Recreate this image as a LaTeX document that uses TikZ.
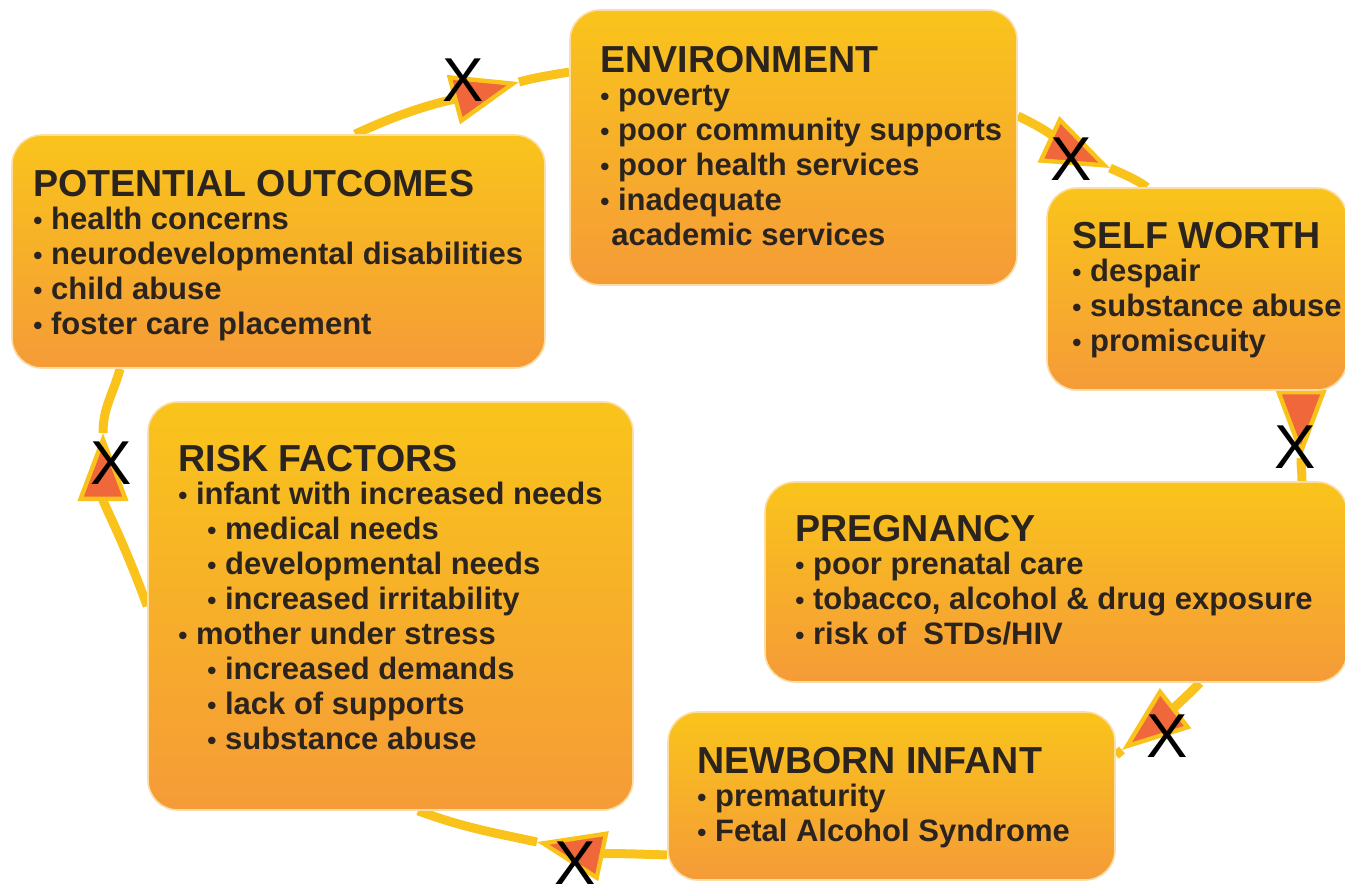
\documentclass[tikz,border=0pt]{standalone}
\usepackage{fontspec}
\setmainfont{Liberation Sans}
\usetikzlibrary{arrows.meta,backgrounds}

\definecolor{boxtop}{HTML}{F9C41B}
\definecolor{boxbottom}{HTML}{F59B38}
\definecolor{boxedge}{HTML}{FCDDA6}
\definecolor{linkyellow}{HTML}{F9C31C}
\definecolor{headred}{HTML}{EF673A}
\definecolor{ink}{HTML}{2B241E}

\newcommand{\bul}{{\fontsize{13}{13}\selectfont\textbullet}\ }
\newcommand{\subbul}{\hspace*{14.5pt}\bul}
\newcommand{\heading}[1]{{\fontsize{18.8}{20}\selectfont #1}}

\tikzset{
    card/.style={rounded corners=15pt, top color=boxtop, bottom color=boxbottom,
        draw=boxedge, line width=0.8pt, inner sep=0pt},
    cardtext/.style={anchor=north west, align=left, inner sep=0pt, text=ink,
        font=\fontsize{15.5}{17.5}\selectfont\bfseries},
    link/.style={draw=linkyellow, line width=4.5pt},
    linkhead/.style={link, -{Triangle[length=34pt,width=25pt,fill=headred,line width=2.2pt]}},
    cross/.style={font=\fontsize{31}{31}\selectfont, text=black, inner sep=0pt}
}

\begin{document}
\begin{tikzpicture}[x=0.5pt,y=-0.5pt]
        \useasboundingbox (0,0) rectangle (1345,885);
        \clip (0,0) rectangle (1345,885);

        %boxes
        \node [card, minimum width=266.5pt, minimum height=116.5pt] (outcomes) at (278.5,251.5) {};
        \node [card, minimum width=223.5pt, minimum height=137.5pt] (environment) at (793.5,147.5) {};
        \node [card, minimum width=150pt, minimum height=101pt] (selfworth) at (1197,289) {};
        \node [card, minimum width=242.5pt, minimum height=204pt] (risk) at (390.5,606) {};
        \node [card, minimum width=291pt, minimum height=100pt] (pregnancy) at (1056,582) {};
        \node [card, minimum width=223.5pt, minimum height=84pt] (newborn) at (891.5,796) {};

        %texts
        \node [cardtext] (outcomestext) at (33,170) {\heading{POTENTIAL OUTCOMES}\\[-1pt]
            \bul health concerns\\ \bul neurodevelopmental disabilities\\
            \bul child abuse\\ \bul foster care placement};
        \node [cardtext] (environmenttext) at (600,46) {\heading{ENVIRONMENT}\\[-1pt]
            \bul poverty\\ \bul poor community supports\\ \bul poor health services\\
            \bul inadequate\\ \hspace*{5.5pt}academic services};
        \node [cardtext] (selfworthtext) at (1072,222) {\heading{SELF WORTH}\\[-1pt]
            \bul despair\\ \bul substance abuse\\ \bul promiscuity};
        \node [cardtext] (risktext) at (178,445) {\heading{RISK FACTORS}\\[-1pt]
            \bul infant with increased needs\\ \subbul medical needs\\
            \subbul developmental needs\\ \subbul increased irritability\\
            \bul mother under stress\\ \subbul increased demands\\
            \subbul lack of supports\\ \subbul substance abuse};
        \node [cardtext] (pregnancytext) at (795,515) {\heading{PREGNANCY}\\[-1pt]
            \bul poor prenatal care\\ \bul tobacco, alcohol \& drug exposure\\
            \bul risk of\ \ STDs/HIV};
        \node [cardtext] (newborntext) at (697,747) {\heading{NEWBORN INFANT}\\[-1pt]
            \bul prematurity\\ \bul Fetal Alcohol Syndrome};

        %arrow tips
        \coordinate (t1) at (519,82);
        \coordinate (t2) at (1110,168);
        \coordinate (t3) at (1301,458);
        \coordinate (t4) at (1122,750);
        \coordinate (t5) at (537,842);
        \coordinate (t6) at (103,433);

        %cycle arrows, under the boxes
        \begin{pgfonlayer}{background}
        \draw [linkhead] ([xshift=38.25pt]outcomes.north) to[out=25,in=195] (t1);
        \draw [link] (t1) to[out=15,in=190] ([yshift=37.75pt]environment.west);

        \draw [linkhead] ([yshift=15.75pt]environment.east) to[out=-25,in=155] (t2);
        \draw [link] (t2) to[out=-25,in=145] ([xshift=-25pt]selfworth.north);

        \draw [linkhead] ([xshift=48pt]selfworth.south) to[out=-85,in=90] (t3);
        \draw [link] (t3) to[out=-90,in=90] ([xshift=123pt]pregnancy.north);

        \draw [linkhead] ([xshift=72pt]pregnancy.south) to[out=225,in=38] (t4);
        \draw [link] (t4) to[out=218,in=30] ([yshift=20.5pt]newborn.east);

        \draw [linkhead] ([yshift=-29.5pt]newborn.west) to[out=178,in=-12] (t5);
        \draw [link] (t5) to[out=168,in=-20] ([xshift=13.75pt]risk.south);

        \draw [linkhead] (risk.west) to[out=110,in=-90] (t6);
        \draw [link] (t6) to[out=90,in=-105] ([xshift=-79.25pt]outcomes.south);
        \end{pgfonlayer}

        %crosses
        \node [cross] (x1) at (463,80) {X};
        \node [cross] (x2) at (1071,159) {X};
        \node [cross] (x3) at (1295,447) {X};
        \node [cross] (x4) at (1167,736) {X};
        \node [cross] (x5) at (575,863) {X};
        \node [cross] (x6) at (111,463) {X};
\end{tikzpicture}
\end{document}
